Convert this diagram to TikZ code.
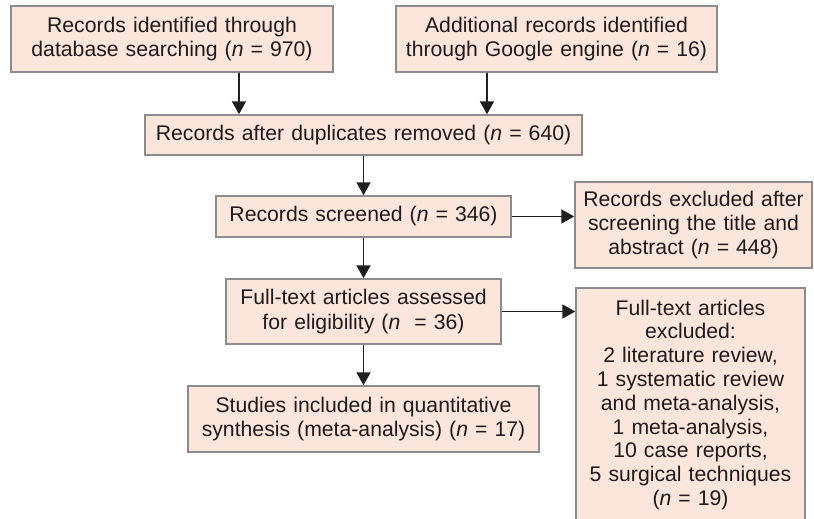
\documentclass[tikz,border=0pt]{standalone}
\usepackage{fontspec}
\setmainfont{Liberation Sans}
\usetikzlibrary{arrows.meta,calc}
\definecolor{boxfill}{HTML}{FCE5DA}
\definecolor{boxline}{HTML}{8C8C8C}
\definecolor{txt}{HTML}{1E1B1C}
\begin{document}
\begin{tikzpicture}[x=1pt,y=-1pt,
  box/.style={draw=boxline, fill=boxfill, line width=1.5pt, text=txt, align=center,
    inner xsep=0pt, inner ysep=2pt, font=\fontsize{21.2}{24.5}\selectfont},
  rbox/.style={box, font=\fontsize{21.2}{23.8}\selectfont},
  arr/.style={draw=black!88, line width=1.9pt, -{Triangle[length=13pt,width=14pt]}}]
\useasboundingbox (0,0) rectangle (814,519);
\clip (0,0) rectangle (814,519);
\node[box, text width=322pt, minimum height=66pt] (b1) at (172,39)
  {Records identified through\\database searching (\textit{n} = 970)};
\node[box, text width=321pt, minimum height=66pt] (b2) at (556.5,39)
  {Additional records identified\\through Google engine (\textit{n} = 16)};
\node[box, text width=437pt, minimum height=40pt] (b3) at (363.5,135)
  {Records after duplicates removed (\textit{n} = 640)};
\node[box, text width=295pt, minimum height=41pt] (b4) at (363.5,216.5)
  {Records screened (\textit{n} = 346)};
\node[rbox, text width=237pt, minimum height=86pt] (r1) at (693.5,225)
  {Records excluded after\\screening the title and\\abstract (\textit{n} = 448)};
\node[box, text width=275pt, minimum height=65pt] (b5) at (363.5,311.5)
  {Full-text articles assessed\\for eligibility (\textit{n}\ \ = 36)};
\node[rbox, text width=229pt, anchor=north, inner ysep=12pt, text depth=203pt] (r2) at (690.5,287)
  {Full-text articles\\excluded:\\2 literature review,\\1 systematic review\\and meta-analysis,\\1 meta-analysis,\\10 case reports,\\5 surgical techniques\\(\textit{n} = 19)};
\node[box, text width=351pt, minimum height=66pt] (b6) at (363.5,419)
  {Studies included in quantitative\\synthesis (meta-analysis) (\textit{n} = 17)};
\draw[arr] ([xshift=67pt]b1.south) -- ([xshift=67pt]b1.south |- b3.north);
\draw[arr] ([xshift=-69.5pt]b2.south) -- ([xshift=-69.5pt]b2.south |- b3.north);
\draw[arr] (b3.south) -- (b4.north);
\draw[arr] (b4.south) -- (b5.north);
\draw[arr] (b5.south) -- (b6.north);
\draw[arr] (b4.east) -- (b4.east -| r1.west);
\draw[arr] (b5.east) -- (b5.east -| r2.west);
\end{tikzpicture}
\end{document}
